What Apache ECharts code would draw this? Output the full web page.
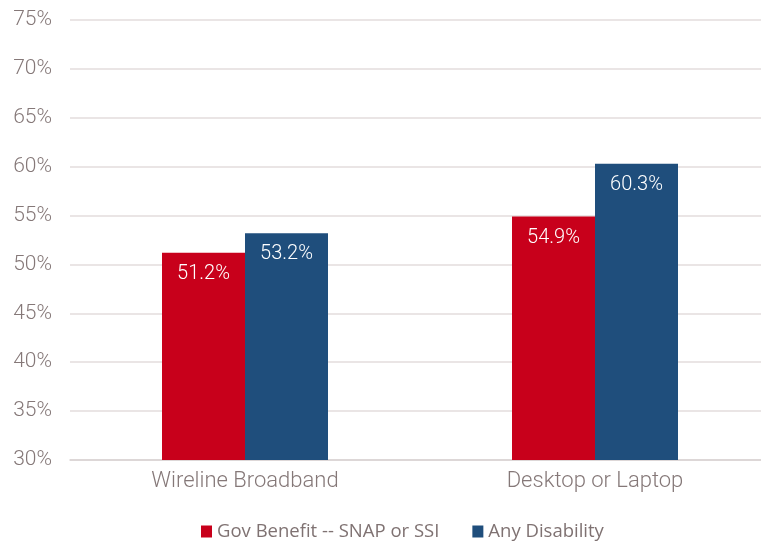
<!DOCTYPE html>
<html>
<head>
<meta charset="utf-8">
<script src="https://cdn.jsdelivr.net/npm/echarts@6/dist/echarts.min.js"></script>
<style>
html,body{margin:0;padding:0;background:#fff;overflow:hidden;width:761px;height:541px;}
#chart{width:770px;height:541px;}
</style>
</head>
<body>
<div id="chart"></div>
<script>
var categories = ['Wireline Broadband', 'Desktop or Laptop'];
var seriesNames = ['Gov Benefit -- SNAP or SSI', 'Any Disability'];
var govBenefit = [51.2, 54.9];
var anyDisability = [53.2, 60.3];
var yMin = 30, yMax = 75, yStep = 5;

var chart = echarts.init(document.getElementById('chart'));
var labelCfg = {
  show: true,
  position: 'insideTop',
  distance: 11,
  color: '#ffffff',
  fontFamily: 'Roboto',
  fontWeight: 300,
  fontSize: 20,
  formatter: function (p) { return p.value.toFixed(1) + '%'; }
};
chart.setOption({
  animation: false,
  backgroundColor: '#ffffff',
  grid: { left: 70, top: 20, right: 0, bottom: 81, containLabel: false },
  legend: {
    top: 517,
    left: 196,
    itemWidth: 11,
    itemHeight: 12,
    itemGap: 33,
    icon: 'rect',
    textStyle: { color: '#7f7272', fontSize: 18.5, fontFamily: 'Open Sans' },
    data: seriesNames
  },
  xAxis: {
    type: 'category',
    data: categories,
    axisLine: { lineStyle: { color: '#d9d2d2', width: 1.5 } },
    axisTick: { show: false },
    axisLabel: { color: '#857878', fontSize: 22, fontFamily: 'Roboto', fontWeight: 300, margin: 10 }
  },
  yAxis: {
    type: 'value',
    min: yMin,
    max: yMax,
    interval: yStep,
    axisLine: { show: false },
    axisTick: { show: false },
    splitLine: { lineStyle: { color: '#e3dcdc', width: 1.5 } },
    axisLabel: {
      color: '#857878', fontSize: 21, fontFamily: 'Roboto', fontWeight: 300, margin: 18,
      formatter: function (v) { return v + '%'; }
    }
  },
  series: [
    {
      name: seriesNames[0], type: 'bar', data: govBenefit,
      barWidth: 83, barGap: '0%',
      itemStyle: { color: '#c8001b' },
      label: labelCfg
    },
    {
      name: seriesNames[1], type: 'bar', data: anyDisability,
      barWidth: 83,
      itemStyle: { color: '#1f4e7c' },
      label: labelCfg
    }
  ]
});
</script>
</body>
</html>
